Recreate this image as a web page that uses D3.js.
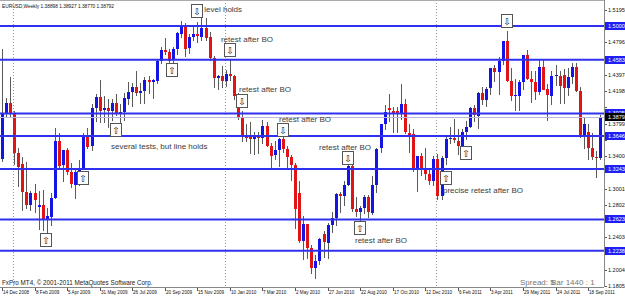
<!DOCTYPE html>
<html>
<head>
<meta charset="utf-8">
<script src="https://cdn.jsdelivr.net/npm/d3@7"></script>
<style>
body { margin: 0; background: #fff; }
svg { display: block; font-family: "Liberation Sans", Arial, sans-serif; }
</style>
</head>
<body>
<div id="app"></div>
<script>
// EURUSD weekly, first bar = week of 14 Dec 2008
const open = [
  1.3360, 1.3930, 1.4050, 1.3920, 1.3440, 1.3300, 1.2960, 1.2800, 1.2950, 1.2780,
  1.2800, 1.2620, 1.2660, 1.2890, 1.3590, 1.3285, 1.3470, 1.3200, 1.3050, 1.3210,
  1.3240, 1.3640, 1.3520, 1.3990, 1.4130, 1.3960, 1.3990, 1.3950, 1.4050, 1.3930,
  1.3940, 1.4110, 1.4190, 1.4250, 1.4180, 1.4200, 1.4330, 1.4300, 1.4330, 1.4570,
  1.4700, 1.4680, 1.4570, 1.4710, 1.4910, 1.4990, 1.4720, 1.4860, 1.4900, 1.4870,
  1.4980, 1.4860, 1.4600, 1.4350, 1.4380, 1.4320, 1.4410, 1.4380, 1.4140, 1.3870,
  1.3650, 1.3630, 1.3610, 1.3630, 1.3620, 1.3770, 1.3530, 1.3410, 1.3470, 1.3610,
  1.3490, 1.3390, 1.3290, 1.2950, 1.2360, 1.2570, 1.2270, 1.2030, 1.2110, 1.2440,
  1.2340, 1.2560, 1.2640, 1.2930, 1.2910, 1.3050, 1.3280, 1.2750, 1.2710, 1.2760,
  1.2900, 1.2710, 1.3050, 1.3490, 1.3790, 1.3990, 1.3960, 1.3950, 1.3930, 1.4040,
  1.3690, 1.3670, 1.3240, 1.3400, 1.3230, 1.3180, 1.3100, 1.3370, 1.2910, 1.3380,
  1.3610, 1.3620, 1.3590, 1.3530, 1.3700, 1.3760, 1.3990, 1.3900, 1.4180, 1.4090,
  1.4230, 1.4480, 1.4430, 1.4570, 1.4810, 1.4320, 1.4140, 1.4140, 1.4310, 1.4640,
  1.4350, 1.4310, 1.4190, 1.4500, 1.4220, 1.4150, 1.4390, 1.4390, 1.4400, 1.4240,
  1.4370, 1.4490, 1.4200, 1.3650, 1.3700, 1.3500, 1.3390, 1.3380
];
const high = [
  1.4720, 1.4110, 1.4370, 1.3960, 1.3500, 1.3390, 1.3330, 1.2970, 1.3060, 1.2970,
  1.2980, 1.2760, 1.2950, 1.3740, 1.3680, 1.3480, 1.3500, 1.3320, 1.3230, 1.3350,
  1.3690, 1.3740, 1.4040, 1.4160, 1.4340, 1.4140, 1.4100, 1.4100, 1.4160, 1.4040,
  1.4170, 1.4310, 1.4300, 1.4450, 1.4300, 1.4370, 1.4380, 1.4350, 1.4590, 1.4740,
  1.4850, 1.4720, 1.4740, 1.4930, 1.5060, 1.5040, 1.4900, 1.5010, 1.5050, 1.5100,
  1.5100, 1.4920, 1.4630, 1.4400, 1.4510, 1.4460, 1.4580, 1.4400, 1.4170, 1.3960,
  1.3790, 1.3820, 1.3700, 1.3700, 1.3840, 1.3820, 1.3560, 1.3580, 1.3620, 1.3640,
  1.3520, 1.3420, 1.3320, 1.3090, 1.2670, 1.2570, 1.2310, 1.2180, 1.2390, 1.2480,
  1.2580, 1.2720, 1.2950, 1.2960, 1.3090, 1.3310, 1.3290, 1.2900, 1.2790, 1.2920,
  1.2920, 1.3160, 1.3500, 1.3790, 1.4030, 1.4160, 1.4000, 1.4000, 1.4280, 1.4100,
  1.3790, 1.3730, 1.3400, 1.3440, 1.3500, 1.3250, 1.3400, 1.3430, 1.3400, 1.3640,
  1.3760, 1.3860, 1.3730, 1.3730, 1.3830, 1.4000, 1.4030, 1.4190, 1.4250, 1.4250,
  1.4480, 1.4520, 1.4620, 1.4820, 1.4940, 1.4480, 1.4350, 1.4330, 1.4640, 1.4700,
  1.4440, 1.4450, 1.4580, 1.4580, 1.4290, 1.4450, 1.4520, 1.4450, 1.4470, 1.4480,
  1.4550, 1.4550, 1.4250, 1.3870, 1.3800, 1.3680, 1.3460, 1.3910
];
const low = [
  1.3340, 1.3880, 1.3880, 1.3300, 1.3030, 1.2740, 1.2760, 1.2740, 1.2710, 1.2510,
  1.2490, 1.2457, 1.2560, 1.2880, 1.3240, 1.3100, 1.3180, 1.3020, 1.2890, 1.3040,
  1.3240, 1.3500, 1.3480, 1.3830, 1.3820, 1.3820, 1.3760, 1.3850, 1.3900, 1.3740,
  1.3840, 1.4040, 1.4010, 1.4150, 1.4050, 1.4050, 1.4180, 1.4120, 1.4300, 1.4540,
  1.4650, 1.4530, 1.4550, 1.4660, 1.4860, 1.4630, 1.4670, 1.4830, 1.4800, 1.4830,
  1.4830, 1.4580, 1.4250, 1.4220, 1.4250, 1.4260, 1.4330, 1.4100, 1.3860, 1.3580,
  1.3580, 1.3440, 1.3430, 1.3440, 1.3560, 1.3530, 1.3270, 1.3360, 1.3280, 1.3450,
  1.3250, 1.3110, 1.2520, 1.2350, 1.2140, 1.2150, 1.1960, 1.1900, 1.2080, 1.2160,
  1.2150, 1.2470, 1.2560, 1.2710, 1.2800, 1.3040, 1.2730, 1.2660, 1.2590, 1.2700,
  1.2650, 1.2690, 1.2960, 1.3450, 1.3730, 1.3830, 1.3700, 1.3700, 1.3860, 1.3690,
  1.3450, 1.3220, 1.2970, 1.3170, 1.3120, 1.3060, 1.3050, 1.2870, 1.2870, 1.3300,
  1.3560, 1.3570, 1.3430, 1.3480, 1.3610, 1.3760, 1.3830, 1.3750, 1.4040, 1.4020,
  1.4160, 1.4320, 1.4160, 1.4530, 1.4320, 1.4090, 1.3970, 1.3970, 1.4230, 1.4350,
  1.4070, 1.4100, 1.4160, 1.4260, 1.3840, 1.4040, 1.4270, 1.4050, 1.4050, 1.4150,
  1.4300, 1.4200, 1.3630, 1.3500, 1.3360, 1.3370, 1.3145, 1.3360
];
const close = [
  1.3930, 1.4050, 1.3920, 1.3440, 1.3270, 1.2960, 1.2800, 1.2950, 1.2860, 1.2800,
  1.2610, 1.2660, 1.2890, 1.3590, 1.3285, 1.3470, 1.3200, 1.3050, 1.3210, 1.3240,
  1.3640, 1.3520, 1.3990, 1.4130, 1.3960, 1.3990, 1.3950, 1.4050, 1.3930, 1.3940,
  1.4110, 1.4190, 1.4250, 1.4180, 1.4200, 1.4330, 1.4300, 1.4330, 1.4570, 1.4700,
  1.4680, 1.4570, 1.4710, 1.4910, 1.4990, 1.4720, 1.4860, 1.4900, 1.4870, 1.4980,
  1.4860, 1.4600, 1.4350, 1.4380, 1.4320, 1.4410, 1.4380, 1.4140, 1.3870, 1.3650,
  1.3630, 1.3610, 1.3630, 1.3620, 1.3770, 1.3530, 1.3410, 1.3470, 1.3610, 1.3490,
  1.3390, 1.3290, 1.2750, 1.2360, 1.2570, 1.2270, 1.2030, 1.2110, 1.2380, 1.2340,
  1.2560, 1.2640, 1.2930, 1.2910, 1.3050, 1.3280, 1.2750, 1.2710, 1.2760, 1.2900,
  1.2710, 1.3050, 1.3490, 1.3790, 1.3940, 1.3960, 1.3940, 1.3930, 1.4040, 1.3690,
  1.3670, 1.3240, 1.3400, 1.3230, 1.3180, 1.3100, 1.3370, 1.2910, 1.3380, 1.3610,
  1.3620, 1.3590, 1.3530, 1.3700, 1.3760, 1.3990, 1.3900, 1.4180, 1.4090, 1.4230,
  1.4480, 1.4430, 1.4570, 1.4810, 1.4320, 1.4140, 1.4150, 1.4310, 1.4640, 1.4350,
  1.4310, 1.4190, 1.4500, 1.4220, 1.4150, 1.4390, 1.4395, 1.4270, 1.4240, 1.4370,
  1.4490, 1.4200, 1.3650, 1.3790, 1.3500, 1.3390, 1.3380, 1.3880
];

const xTickBars = [0, 8, 16, 24, 32, 40, 48, 56, 64, 72, 80, 88, 96, 104, 112, 120, 128, 136, 144];
const xTickLabels = ["14 Dec 2008", "8 Feb 2009", "5 Apr 2009", "31 May 2009", "26 Jul 2009",
  "20 Sep 2009", "15 Nov 2009", "10 Jan 2010", "7 Mar 2010", "2 May 2010", "27 Jun 2010",
  "22 Aug 2010", "17 Oct 2010", "12 Dec 2010", "6 Feb 2011", "3 Apr 2011", "29 May 2011",
  "24 Jul 2011", "18 Sep 2011"];
const yTickValues = [1.51950, 1.49956, 1.47962, 1.45968, 1.43974, 1.41980, 1.39986, 1.37992,
  1.35998, 1.34004, 1.32010, 1.30016, 1.28022, 1.26028, 1.24034, 1.22040, 1.20046, 1.18052];

// horizontal S/R levels drawn on the chart
const levels = [1.5000, 1.4583, 1.3925, 1.3646, 1.3243, 1.2623, 1.2238];
const bid = 1.38792;
const yearStarts = [3, 55, 107];

// arrow boxes: bar position, price of the box centre, direction
const arrowBars = [10.93, 19.9, 27.89, 41.77, 48.03, 55.9, 58.97, 68.92, 84.89, 87.84, 109.21, 114.0, 124.08];
const arrowPrices = [1.2376, 1.3126, 1.3721, 1.4458, 1.5183, 1.4698, 1.4077, 1.3715, 1.3377, 1.2518, 1.3132, 1.3433, 1.5054];
const arrowDirs = ["up", "up", "up", "up", "down", "down", "down", "down", "down", "up", "up", "up", "down"];

const noteTexts = ["level holds", "retest after BO", "retest after BO", "retest after BO", "retest after BO",
  "retest after BO", "several tests, but line holds", "precise retest after BO"];
const noteBars = [49.7, 53.8, 58.23, 68.06, 77.89, 86.73, 26.78, 108.35];
const notePrices = [1.5170, 1.4802, 1.4188, 1.3819, 1.3476, 1.2333, 1.3488, 1.2947];

const width = 625, height = 297;
const plot = { right: 604, bottom: 287 };

const svg = d3.select('#app')
    .append('svg')
    .attr('width', width)
    .attr('height', height)

const xScale = d3.scaleLinear()
    .domain([0, 147])
    .range([2, 2 + 4.07 * 147])
const yScale = d3.scaleLinear()
    .domain([1.5195, 1.1805])
    .range([10, 286])
const px = i => Math.round(xScale(i))

svg.append('rect')
    .attr('width', width).attr('height', height).attr('fill', '#fff')

svg.append('clipPath').attr('id', 'plotclip')
    .append('rect').attr('x', 0).attr('y', 0).attr('width', plot.right).attr('height', plot.bottom)
const chart = svg.append('g').attr('clip-path', 'url(#plotclip)')

// year separators
chart.selectAll('.sep')
    .data(yearStarts)
    .join('line')
    .attr('x1', d => px(d) - 1 + 0.5).attr('x2', d => px(d) - 1 + 0.5)
    .attr('y1', 0).attr('y2', plot.bottom)
    .attr('stroke', '#9a9a9a')
    .attr('stroke-dasharray', '1,2')

const bars = d3.range(open.length).map(i => ({ i, o: open[i], h: high[i], l: low[i], c: close[i] }))

chart.selectAll('.wick')
    .data(bars)
    .join('line')
    .attr('x1', d => px(d.i) + 0.5).attr('x2', d => px(d.i) + 0.5)
    .attr('y1', d => Math.round(yScale(d.h))).attr('y2', d => Math.round(yScale(d.l)) + 1)
    .attr('stroke', '#5a5a5a')

chart.selectAll('.body')
    .data(bars)
    .join('rect')
    .attr('x', d => px(d.i) - 1)
    .attr('width', 3)
    .attr('y', d => Math.round(yScale(Math.max(d.o, d.c))))
    .attr('height', d => Math.max(1, Math.round(Math.abs(yScale(d.o) - yScale(d.c)))))
    .attr('fill', d => d.c >= d.o ? '#1414e6' : '#e01414')
    .attr('shape-rendering', 'crispEdges')

// levels
chart.selectAll('.level')
    .data(levels)
    .join('line')
    .attr('x1', 0).attr('x2', plot.right)
    .attr('y1', d => yScale(d)).attr('y2', d => yScale(d))
    .attr('stroke', '#3030f0')
    .attr('stroke-width', 2)

chart.append('line')
    .attr('x1', 0).attr('x2', plot.right)
    .attr('y1', Math.round(yScale(bid)) + 0.5).attr('y2', Math.round(yScale(bid)) + 0.5)
    .attr('stroke', '#b8b8dc')

// arrow boxes
const arrows = chart.selectAll('.arrow')
    .data(arrowBars.map((b, k) => ({ b, p: arrowPrices[k], dir: arrowDirs[k] })))
    .join('g')
    .attr('transform', d => `translate(${Math.round(xScale(d.b))},${Math.round(yScale(d.p))})`)
arrows.append('rect')
    .attr('x', -5.5).attr('y', -6.5).attr('width', 11).attr('height', 13)
    .attr('fill', '#fff').attr('stroke', '#555')
arrows.append('text')
    .attr('text-anchor', 'middle').attr('y', 3.5)
    .attr('font-family', 'DejaVu Sans')
    .attr('font-size', 9.5)
    .attr('fill', '#222')
    .text(d => d.dir === 'up' ? '\u21E7' : '\u21E9')

// notes
chart.selectAll('.note')
    .data(noteTexts.map((t, k) => ({ t, b: noteBars[k], p: notePrices[k] })))
    .join('text')
    .attr('x', d => xScale(d.b)).attr('y', d => yScale(d.p))
    .attr('font-size', 8)
    .attr('fill', '#3c3c3c')
    .text(d => d.t)

// header and footer texts
svg.append('text').attr('x', 2).attr('y', 8)
    .attr('font-size', 4.8).attr('fill', '#111')
    .text('EURUSD,Weekly  1.38898 1.38927 1.38770 1.38792')
svg.append('text').attr('x', 2).attr('y', 285)
    .attr('font-size', 6.3).attr('fill', '#222')
    .text('FxPro MT4, \u00A9 2001-2011 MetaQuotes Software Corp.')
svg.append('text').attr('x', 520).attr('y', 285)
    .attr('font-size', 8).attr('fill', '#777')
    .text('Spread: 5')
svg.append('text').attr('x', 551).attr('y', 285)
    .attr('font-size', 8).attr('fill', '#777')
    .text('Bar 1440 : 1')

// frame
svg.append('line').attr('x1', plot.right + 0.5).attr('x2', plot.right + 0.5)
    .attr('y1', 0).attr('y2', plot.bottom).attr('stroke', '#888')
svg.append('line').attr('x1', 0).attr('x2', plot.right)
    .attr('y1', plot.bottom + 0.5).attr('y2', plot.bottom + 0.5).attr('stroke', '#888')
svg.append('line').attr('x1', 0).attr('x2', plot.right)
    .attr('y1', 0.5).attr('y2', 0.5).attr('stroke', '#aaa')

// price axis
const marked = levels.concat([bid])
const visibleTicks = yTickValues.filter(v => d3.min(marked, m => Math.abs(yScale(v) - yScale(m))) > 6.5)
const yAxis = svg.append('g')
yAxis.selectAll('line')
    .data(yTickValues)
    .join('line')
    .attr('x1', plot.right + 1).attr('x2', plot.right + 3)
    .attr('y1', d => Math.round(yScale(d)) + 0.5).attr('y2', d => Math.round(yScale(d)) + 0.5)
    .attr('stroke', '#555')
yAxis.selectAll('text')
    .data(visibleTicks)
    .join('text')
    .attr('x', plot.right + 4).attr('y', d => yScale(d) + 2)
    .attr('font-size', 5.5).attr('fill', '#111')
    .text(d => d.toFixed(5))

const tags = svg.selectAll('.tag')
    .data(levels.map(v => ({ v, bg: '#1e1ef5' })).concat([{ v: bid, bg: '#000' }]))
    .join('g')
    .attr('transform', d => `translate(${plot.right + 1},${Math.round(yScale(d.v))})`)
tags.append('rect').attr('x', 0).attr('y', -4).attr('width', 21).attr('height', 8).attr('fill', d => d.bg)
tags.append('text').attr('x', 3).attr('y', 2.2)
    .attr('font-size', 5.5).attr('fill', '#fff')
    .text(d => d.v.toFixed(5))

// time axis
const xAxis = svg.append('g')
xAxis.selectAll('line')
    .data(xTickBars)
    .join('line')
    .attr('x1', d => px(d) + 0.5).attr('x2', d => px(d) + 0.5)
    .attr('y1', plot.bottom + 1).attr('y2', plot.bottom + 4)
    .attr('stroke', '#555')
xAxis.selectAll('text')
    .data(xTickBars)
    .join('text')
    .attr('x', d => px(d) + 1).attr('y', 294)
    .attr('font-size', 4.6).attr('fill', '#111')
    .text((d, k) => xTickLabels[k])
</script>
</body>
</html>
